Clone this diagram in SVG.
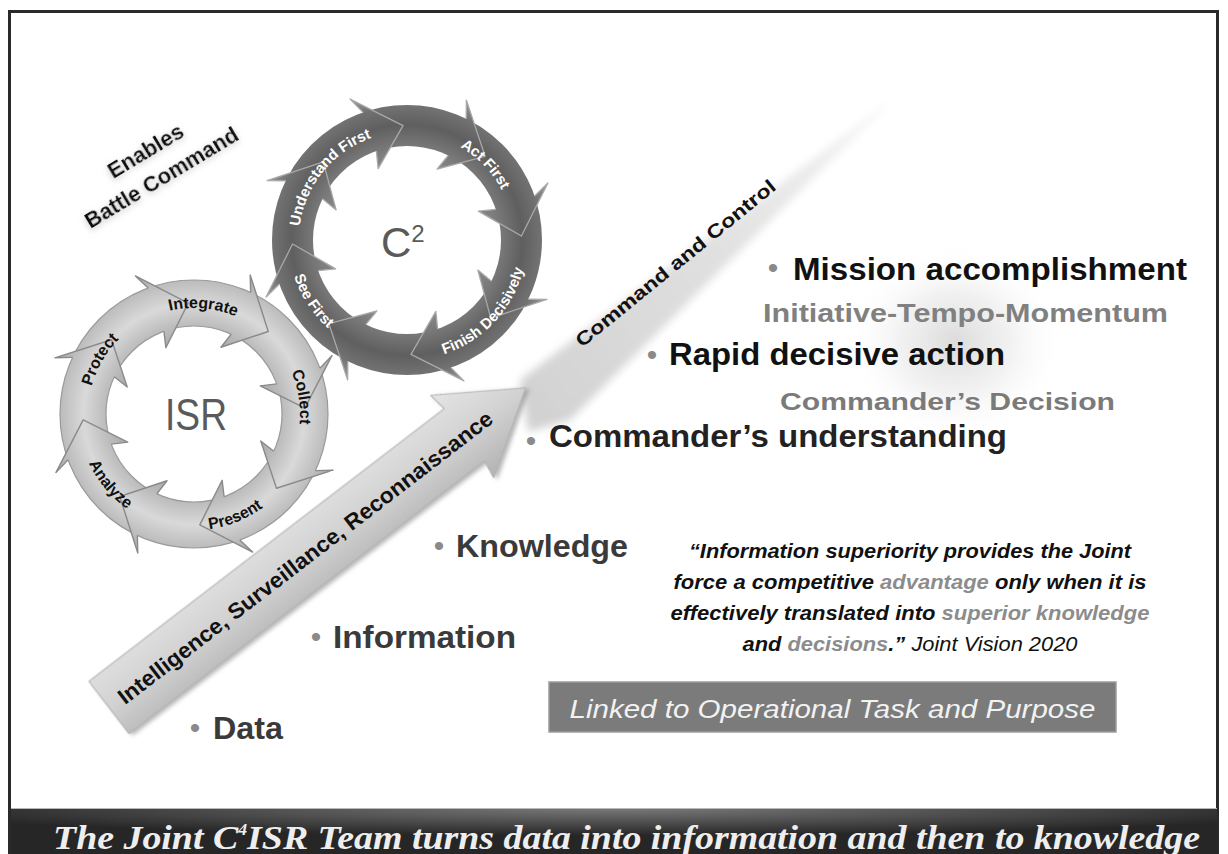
<svg xmlns="http://www.w3.org/2000/svg" width="1228" height="854" viewBox="0 0 1228 854">
<defs>
<style>
.sans{font-family:"Liberation Sans",Arial,sans-serif}
.bul{font-family:"Liberation Sans",Arial,sans-serif;font-size:30px;fill:#8a8a8a;text-anchor:middle}
.big{font-family:"Liberation Sans",Arial,sans-serif;font-weight:bold;font-size:32px}
.sub{font-family:"Liberation Sans",Arial,sans-serif;font-weight:bold}
.c2lbl{font-family:"Liberation Sans",Arial,sans-serif;font-weight:bold;font-size:15px;fill:#ffffff}
.isrlbl{font-family:"Liberation Sans",Arial,sans-serif;font-weight:bold;font-size:16px;fill:#111111}
.quote{font-family:"Liberation Sans",Arial,sans-serif;font-style:italic;font-weight:bold;font-size:20px;fill:#111111;text-anchor:middle}
.hl{fill:#8c8c8c}
.c2edge{fill:none;stroke:#a9a9a9;stroke-width:1.3;stroke-linejoin:round}
.isredge{fill:none;stroke:#8a8a8a;stroke-width:1.4;stroke-linejoin:round}
</style>
<radialGradient id="c2g" gradientUnits="userSpaceOnUse" cx="0" cy="0" r="160">
<stop offset="0.45" stop-color="#8e8e8e"/>
<stop offset="0.6" stop-color="#767676"/>
<stop offset="0.72" stop-color="#5f5f5f"/>
<stop offset="0.84" stop-color="#727272"/>
<stop offset="0.95" stop-color="#9c9c9c"/>
</radialGradient>
<radialGradient id="isrg" gradientUnits="userSpaceOnUse" cx="0" cy="0" r="160">
<stop offset="0.45" stop-color="#a9a9a9"/>
<stop offset="0.56" stop-color="#bdbdbd"/>
<stop offset="0.69" stop-color="#d9d9d9"/>
<stop offset="0.83" stop-color="#bdbdbd"/>
<stop offset="0.95" stop-color="#a5a5a5"/>
</radialGradient>
<linearGradient id="arrowg" x1="0" y1="0" x2="0" y2="1">
<stop offset="0" stop-color="#e4e4e4"/>
<stop offset="0.5" stop-color="#d2d2d2"/>
<stop offset="1" stop-color="#b2b2b2"/>
</linearGradient>
<linearGradient id="streakg" gradientUnits="userSpaceOnUse" x1="525" y1="400" x2="895" y2="98">
<stop offset="0" stop-color="#d2d2d2"/>
<stop offset="0.5" stop-color="#e0e0e0"/>
<stop offset="1" stop-color="#f6f6f6"/>
</linearGradient>
<radialGradient id="glowg" cx="0.5" cy="0.5" r="0.5">
<stop offset="0" stop-color="#cccccc" stop-opacity="0.7"/>
<stop offset="0.5" stop-color="#e0e0e0" stop-opacity="0.45"/>
<stop offset="1" stop-color="#ffffff" stop-opacity="0"/>
</radialGradient>
<radialGradient id="bang" cx="0.5" cy="0" r="0.6">
<stop offset="0" stop-color="#7a7a7a"/>
<stop offset="1" stop-color="#262626"/>
</radialGradient>
<filter id="blur4" x="-20%" y="-20%" width="140%" height="140%"><feGaussianBlur stdDeviation="4"/></filter>
<filter id="shadow" x="-10%" y="-10%" width="120%" height="130%"><feDropShadow dx="2" dy="3" stdDeviation="2" flood-color="#777" flood-opacity="0.55"/></filter>
<filter id="txtglow" x="-20%" y="-40%" width="140%" height="180%"><feDropShadow dx="-1" dy="2" stdDeviation="3" flood-color="#bbbbbb" flood-opacity="0.8"/></filter>
<g id="c2head">
<path d="M134.8,7.07 L152,0 L107.6,39.2 L77,0 L93.9,4.92 Z" fill="url(#c2g)"/>
<path class="c2edge" d="M134.8,7.07 L152,0 L107.6,39.2 L77,0 L93.9,4.92"/>
</g>
<g id="isrhead">
<path d="M133.8,7.01 L150,0 L104.3,37.96 L72,0 L87.9,4.61 Z" fill="url(#isrg)"/>
<path class="isredge" d="M133.8,7.01 L150,0 L104.3,37.96 L72,0 L87.9,4.61"/>
</g>
<path id="pUnd" d="M338.4,324.7 A109,109 0 0 1 475.6,155.3"/>
<path id="pAct" d="M331.3,161.6 A109,109 0 0 1 482.7,318.4"/>
<path id="pFin" d="M325.2,327.8 A120,120 0 0 0 488.8,152.2"/>
<path id="pSee" d="M341.6,139.4 A120,120 0 0 0 472.4,340.6"/>
<path id="pPro" d="M141,505.8 A106,106 0 0 1 247,322.2"/>
<path id="pInt" d="M88.4,404.8 A106,106 0 0 1 299.6,423.2"/>
<path id="pCol" d="M177.4,309.3 A106,106 0 0 1 210.6,518.7"/>
<path id="pPre" d="M86.4,457.5 A116,116 0 0 0 301.6,370.5"/>
<path id="pAna" d="M119.4,325.1 A116,116 0 0 0 268.6,502.9"/>
</defs>

<rect x="0" y="0" width="1228" height="854" fill="#ffffff"/>
<rect id="frame" x="9.5" y="11.5" width="1208" height="860" fill="#ffffff" stroke="#2a2a2a" stroke-width="3"/>

<g id="streak">
<polygon points="520,380 895,97 570,420 528,432" fill="url(#streakg)" filter="url(#blur4)"/>
</g>
<g id="glow">
<ellipse cx="955" cy="342" rx="110" ry="100" fill="url(#glowg)"/>
</g>

<g id="c2ring">
<g transform="translate(407,240)">
<circle r="114.5" fill="none" stroke="url(#c2g)" stroke-width="41"/>
<use href="#c2head" transform="rotate(-157)"/>
<use href="#c2head" transform="rotate(-112)"/>
<use href="#c2head" transform="rotate(-67)"/>
<use href="#c2head" transform="rotate(-22)"/>
<use href="#c2head" transform="rotate(23)"/>
<use href="#c2head" transform="rotate(68)"/>
<use href="#c2head" transform="rotate(113)"/>
<use href="#c2head" transform="rotate(158)"/>
</g>
<text class="c2lbl"><textPath href="#pUnd" startOffset="50%" text-anchor="middle">Understand First</textPath></text>
<text class="c2lbl"><textPath href="#pAct" startOffset="50%" text-anchor="middle">Act First</textPath></text>
<text class="c2lbl"><textPath href="#pFin" startOffset="50%" text-anchor="middle">Finish Decisively</textPath></text>
<text class="c2lbl"><textPath href="#pSee" startOffset="50%" text-anchor="middle">See First</textPath></text>
<text class="sans" x="381" y="257" font-size="42" fill="#5a5a5a">C<tspan font-size="24" dy="-15">2</tspan></text>
</g>

<g id="isrring">
<g transform="translate(194,414)">
<circle r="111" fill="none" stroke="url(#isrg)" stroke-width="46"/>
<circle r="134" fill="none" stroke="#9a9a9a" stroke-width="1.2"/>
<circle r="88" fill="none" stroke="#9a9a9a" stroke-width="1.2"/>
<use href="#isrhead" transform="rotate(-158)"/>
<use href="#isrhead" transform="rotate(-113)"/>
<use href="#isrhead" transform="rotate(-68)"/>
<use href="#isrhead" transform="rotate(-23)"/>
<use href="#isrhead" transform="rotate(22)"/>
<use href="#isrhead" transform="rotate(67)"/>
<use href="#isrhead" transform="rotate(112)"/>
<use href="#isrhead" transform="rotate(157)"/>
</g>
<text class="isrlbl"><textPath href="#pPro" startOffset="50%" text-anchor="middle">Protect</textPath></text>
<text class="isrlbl"><textPath href="#pInt" startOffset="50%" text-anchor="middle">Integrate</textPath></text>
<text class="isrlbl"><textPath href="#pCol" startOffset="50%" text-anchor="middle">Collect</textPath></text>
<text class="isrlbl"><textPath href="#pPre" startOffset="50%" text-anchor="middle">Present</textPath></text>
<text class="isrlbl"><textPath href="#pAna" startOffset="50%" text-anchor="middle">Analyze</textPath></text>
<text class="sans" x="165" y="430" font-size="44" fill="#5a5a5a" textLength="62" lengthAdjust="spacingAndGlyphs">ISR</text>
</g>

<g id="israrrow" transform="translate(109,707.5) rotate(-37.5)">
<polygon points="0,-33 448,-33 445,-52 525,0 445,52 448,33 0,33" fill="url(#arrowg)" stroke="#b0b0b0" stroke-width="1" filter="url(#shadow)"/>
<text class="sans" x="14" y="8" font-size="22" font-weight="bold" fill="#111" textLength="466" lengthAdjust="spacingAndGlyphs">Intelligence, Surveillance, Reconnaissance</text>
</g>

<g id="c2label">
<text class="sans" transform="translate(582,348) rotate(-39.2)" x="0" y="0" font-size="19" font-weight="bold" fill="#111" textLength="252" lengthAdjust="spacingAndGlyphs">Command and Control</text>
</g>

<g id="enables" transform="rotate(-31,157,168)" filter="url(#txtglow)">
<text class="sans" x="156" y="155" font-size="22" font-weight="bold" fill="#111" text-anchor="middle">Enables</text>
<text class="sans" x="156" y="186" font-size="22" font-weight="bold" fill="#111" text-anchor="middle">Battle Command</text>
</g>

<g id="mission">
<text class="bul" x="773" y="278">•</text>
<text class="big" x="793" y="280" fill="#111" textLength="394" lengthAdjust="spacingAndGlyphs">Mission accomplishment</text>
</g>
<g id="initiative">
<text class="sub" x="763" y="322" font-size="25" fill="#808080" textLength="405" lengthAdjust="spacingAndGlyphs">Initiative-Tempo-Momentum</text>
</g>
<g id="rapid">
<text class="bul" x="652" y="365">•</text>
<text class="big" x="669" y="365" fill="#111" textLength="336" lengthAdjust="spacingAndGlyphs">Rapid decisive action</text>
</g>
<g id="decision">
<text class="sub" x="780" y="410" font-size="24" fill="#7a7a7a" textLength="335" lengthAdjust="spacingAndGlyphs">Commander’s Decision</text>
</g>
<g id="understanding">
<text class="bul" x="531" y="451">•</text>
<text class="big" x="549" y="447" fill="#222" textLength="458" lengthAdjust="spacingAndGlyphs">Commander’s understanding</text>
</g>
<g id="knowledge">
<text class="bul" x="439" y="556">•</text>
<text class="big" x="456" y="557" fill="#3a3a3a" textLength="172" lengthAdjust="spacingAndGlyphs">Knowledge</text>
</g>
<g id="information">
<text class="bul" x="316" y="647">•</text>
<text class="big" x="333" y="648" fill="#3a3a3a" textLength="183" lengthAdjust="spacingAndGlyphs">Information</text>
</g>
<g id="data">
<text class="bul" x="195" y="738">•</text>
<text class="big" x="213" y="739" fill="#3a3a3a" textLength="70" lengthAdjust="spacingAndGlyphs">Data</text>
</g>

<g id="quote">
<text class="quote" x="910" y="558" fill="#333" textLength="442" lengthAdjust="spacingAndGlyphs">“Information superiority provides the Joint</text>
<text class="quote" x="910" y="589" textLength="473" lengthAdjust="spacingAndGlyphs">force a competitive <tspan class="hl">advantage</tspan> only when it is</text>
<text class="quote" x="910" y="620" textLength="479" lengthAdjust="spacingAndGlyphs">effectively translated into <tspan class="hl">superior knowledge</tspan></text>
<text class="quote" x="910" y="651" textLength="335" lengthAdjust="spacingAndGlyphs">and <tspan class="hl">decisions</tspan>.” <tspan font-weight="normal">Joint Vision 2020</tspan></text>
</g>

<g id="linked">
<rect x="549" y="682" width="567" height="50" fill="#7b7b7b" stroke="#9c9c9c" stroke-width="1.5"/>
<text class="sans" x="569.5" y="718" font-size="26" font-style="italic" fill="#f2f2f2" textLength="526" lengthAdjust="spacingAndGlyphs">Linked to Operational Task and Purpose</text>
</g>

<g id="banner">
<rect x="11" y="808" width="1206" height="46" fill="url(#bang)"/>
<line x1="11" y1="808.5" x2="1217" y2="808.5" stroke="#b8b8b8" stroke-width="1"/>
<text x="53" y="849" font-family="'Liberation Serif','Times New Roman',serif" font-style="italic" font-weight="bold" font-size="34" fill="#eeeeee" textLength="1147" lengthAdjust="spacingAndGlyphs">The Joint C<tspan font-size="16" dy="-14">4</tspan><tspan dy="14">ISR Team turns data into information and then to knowledge</tspan></text>
</g>
</svg>
